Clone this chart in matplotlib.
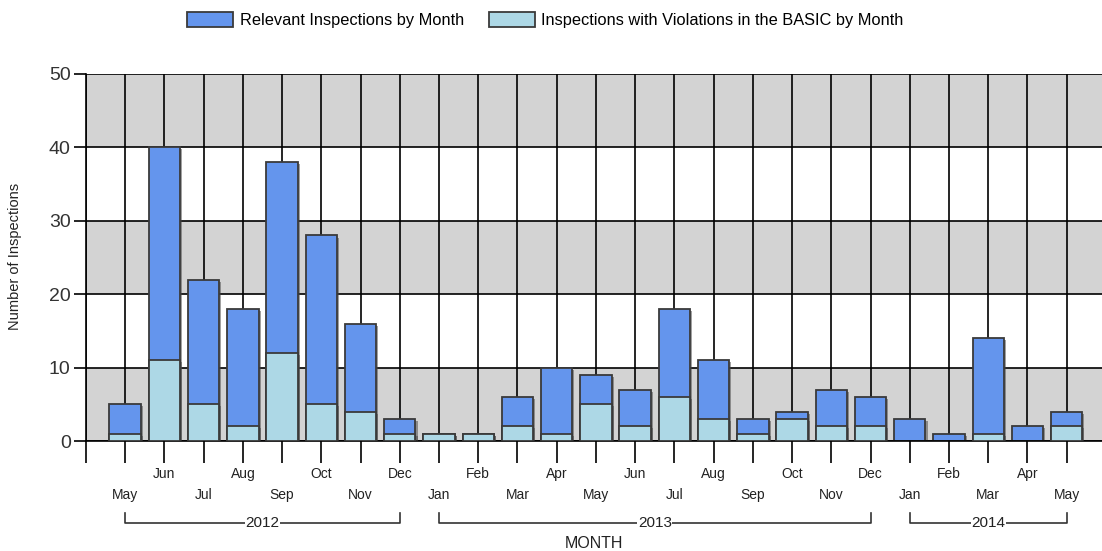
import matplotlib
matplotlib.use("Agg")
import matplotlib.pyplot as plt
import matplotlib.patheffects as pe
from matplotlib.patches import Patch
from matplotlib.transforms import blended_transform_factory

months = ["May", "Jun", "Jul", "Aug", "Sep", "Oct", "Nov", "Dec",
          "Jan", "Feb", "Mar", "Apr", "May", "Jun", "Jul", "Aug", "Sep", "Oct", "Nov", "Dec",
          "Jan", "Feb", "Mar", "Apr", "May"]
years = ["2012"] * 8 + ["2013"] * 12 + ["2014"] * 5
relevant = [5, 40, 22, 18, 38, 28, 16, 3,
            1, 1, 6, 10, 9, 7, 18, 11, 3, 4, 7, 6,
            3, 1, 14, 2, 4]
violations = [1, 11, 5, 2, 12, 5, 4, 1,
              1, 1, 2, 1, 5, 2, 6, 3, 1, 3, 2, 2,
              0, 0, 1, 0, 2]

plt.rcParams['font.family'] = ['Liberation Sans', 'DejaVu Sans']
txt = '#222222'
edge = '#3a3a3a'
blue = '#6495ED'
light = '#ADD8E6'

fig = plt.figure(figsize=(11.02, 5.51), dpi=100)
ax = fig.add_axes([0.078, 0.1996, 0.922, 0.6661])

x = list(range(len(months)))
ax.set_xlim(-1, 24.9)
ax.set_ylim(0, 50)

# alternating bands
for lo in (0, 20, 40):
    ax.axhspan(lo, lo + 10, color='#D3D3D3', zorder=0, lw=0)
for y in range(0, 51, 10):
    ax.axhline(y, color='black', lw=1.2, zorder=1)
for xi in range(-1, 25):
    ax.axvline(xi, color='black', lw=1.2, zorder=1)

shadow = [pe.SimplePatchShadow(offset=(1.5, -1.5), shadow_rgbFace='#444444', alpha=0.5), pe.Normal()]
b1 = ax.bar(x, relevant, width=0.8, color=blue, edgecolor=edge, lw=1.3, zorder=2)
b2 = ax.bar(x, violations, width=0.8, color=light, edgecolor=edge, lw=1.3, zorder=3)
for b in list(b1) + list(b2):
    if b.get_height() > 0:
        b.set_path_effects(shadow)
    else:
        b.set_visible(False)

for s in ['top', 'right']:
    ax.spines[s].set_visible(False)
ax.spines['left'].set_linewidth(1.2)
ax.spines['bottom'].set_linewidth(1.2)

ax.set_yticks(range(0, 51, 10))
ax.tick_params(axis='y', length=9, width=1.2, labelsize=14, labelcolor='#333333', pad=2)
ax.set_xticks(range(-1, 25))
ax.set_xticklabels([])
ax.tick_params(axis='x', length=16, width=1.2)

tr = blended_transform_factory(ax.transData, ax.transAxes)
for i, m in enumerate(months):
    yy = -0.09 if i % 2 == 1 else -0.147
    ax.text(i, yy, m, transform=tr, ha='center', va='center', fontsize=10, color=txt)

# year brackets
groups = []
for i, yr in enumerate(years):
    if groups and groups[-1][0] == yr:
        groups[-1][2] = i
    else:
        groups.append([yr, i, i])
for yr, a, b in groups:
    ax.plot([a, a, b, b], [-0.196, -0.223, -0.223, -0.196], transform=tr,
            color='#333333', lw=1.2, clip_on=False)
    ax.text((a + b) / 2, -0.223, yr, transform=tr, ha='center', va='center',
            fontsize=11, color=txt, bbox=dict(fc='white', ec='none', pad=0.3))

ax.text(0.5, -0.278, "MONTH", transform=ax.transAxes, ha='center', va='center',
        fontsize=11.5, color=txt)
fig.text(0.014, 0.534, "Number of Inspections", rotation=90, ha='center', va='center',
         fontsize=10.5, color=txt)

handles = [Patch(facecolor=blue, edgecolor=edge, lw=1.3),
           Patch(facecolor=light, edgecolor=edge, lw=1.3)]
fig.legend(handles, ["Relevant Inspections by Month", "Inspections with Violations in the BASIC by Month"],
           loc='center', bbox_to_anchor=(0.495, 0.963), ncol=2, frameon=False, fontsize=11.8,
           handlelength=2.8, handleheight=1.0, columnspacing=1.5, handletextpad=0.4)

fig.savefig("out.png", dpi=100)
